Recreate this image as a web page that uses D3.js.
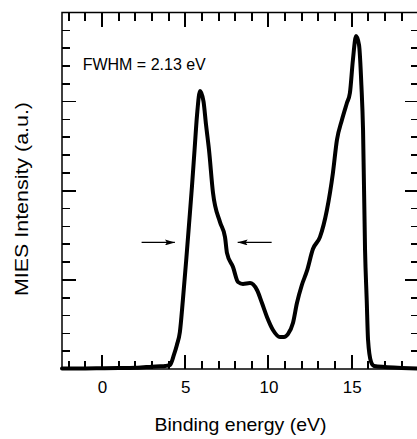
<!DOCTYPE html>
<html>
<head>
<meta charset="utf-8">
<script src="https://cdn.jsdelivr.net/npm/d3@7"></script>
<style>
  html, body { margin: 0; padding: 0; background: #fff; overflow: hidden; }
  svg { display: block; font-family: "Liberation Sans", Arial, Helvetica, sans-serif; }
</style>
</head>
<body>
<svg id="chart" width="417" height="439"></svg>
<script>
// ---- data ----
const energy = [-2.4, -1, 0, 1, 2, 2.5, 3, 3.5, 3.8, 4.08, 4.32, 4.5, 4.68, 4.86, 5.05, 5.23, 5.41, 5.56, 5.71, 5.89,
  6.1, 6.25, 6.43, 6.67, 7.09, 7.39, 7.51, 7.87, 8.17, 8.47, 8.89, 9.31, 9.61, 9.91, 10.27, 10.69, 10.93, 11.17,
  11.47, 11.71, 12.0, 12.31, 12.67, 13.09, 13.51, 13.87, 14.11, 14.41, 14.71, 14.89, 15.07, 15.26, 15.44, 15.58,
  15.68, 15.8, 15.9, 15.98, 16.16, 16.34, 17, 18, 19.04];
const intensity = [0.03, 0.03, 0.04, 0.05, 0.07, 0.1, 0.13, 0.15, 0.17, 0.22, 0.79, 1.35, 2.08, 3.87, 6.0, 8.13, 10.3, 12.28, 14.25, 15.6,
  15.0, 13.7, 12.28, 9.87, 8.24, 7.4, 6.5, 5.72, 4.88, 4.77, 4.82, 4.43, 3.7, 2.92, 2.19, 1.8, 1.8, 1.96,
  2.58, 3.7, 4.7, 5.5, 6.73, 7.4, 8.92, 11.0, 12.84, 13.97, 14.92, 15.48, 17.33, 18.68, 18.17, 15.93,
  13.4, 6.67, 3.87, 1.63, 0.4, 0.17, 0.11, 0.06, 0.02];

const xDomain = [-2.4, 19.04];
const yDomain = [0, 20];
const xMajorTicks = [0, 5, 10, 15];
const xMinorTicks = [-2, -1, 1, 2, 3, 4, 6, 7, 8, 9, 11, 12, 13, 14, 16, 17, 18, 19];
const yMajorTicks = [5, 10, 15];
const yMinorTicks = [1, 2, 3, 4, 6, 7, 8, 9, 11, 12, 13, 14, 16, 17, 18, 19];

const xLabel = "Binding energy (eV)";
const yLabel = "MIES Intensity (a.u.)";
const annotationText = "FWHM = 2.13 eV";
const annotationPos = [-1.16, 16.77];
// FWHM arrows: [tailX, headX] at height arrowLevel
const arrowLevel = 7.1;
const arrowsX = [[2.38, 4.38], [10.19, 8.15]];

// ---- layout ----
const margin = { left: 62, top: 12.5 };
const plotW = 357, plotH = 356.5;
const minorLen = 8, majorLen = 14;

const svg = d3.select("#chart");
const g = svg.append("g").attr("transform", `translate(${margin.left},${margin.top})`);

const x = d3.scaleLinear().domain(xDomain).range([0, plotW]);
const y = d3.scaleLinear().domain(yDomain).range([plotH, 0]);

// arrowhead marker
svg.append("defs").append("marker")
  .attr("id", "ah")
  .attr("viewBox", "0 0 10 6")
  .attr("refX", 10).attr("refY", 3)
  .attr("markerWidth", 10).attr("markerHeight", 6)
  .attr("markerUnits", "userSpaceOnUse")
  .attr("orient", "auto")
  .append("path").attr("d", "M0,0 L10,3 L0,6 L2,3 Z").attr("fill", "#000");

// frame
g.append("rect")
  .attr("x", x(xDomain[0])).attr("y", y(yDomain[1]))
  .attr("width", x(xDomain[1]) - x(xDomain[0]))
  .attr("height", y(yDomain[0]) - y(yDomain[1]))
  .attr("fill", "none").attr("stroke", "#000").attr("stroke-width", 1.5);

// bottom tick labels via d3 axis
const axB = g.append("g").attr("transform", `translate(0,${plotH})`)
  .call(d3.axisBottom(x).tickValues(xMajorTicks).tickSize(0).tickPadding(12).tickFormat(d3.format("d")));
axB.select(".domain").remove();
axB.selectAll(".tick line").remove();
axB.selectAll("text").attr("font-size", "17px").attr("fill", "#000")
  .attr("font-family", "Liberation Sans, Arial, sans-serif");

// curve
const pts = energy.map((e, i) => [e, intensity[i]]);
const line = d3.line().x(d => x(d[0])).y(d => y(d[1])).curve(d3.curveMonotoneX);
g.append("path").datum(pts)
  .attr("d", line)
  .attr("fill", "none").attr("stroke", "#000")
  .attr("stroke-width", 4).attr("stroke-linejoin", "round").attr("stroke-linecap", "round");

// ticks (inward on all four sides), x positions snapped to whole pixels
const snap = v => Math.round(x(v));
const xTickData = xMinorTicks.map(v => ({ v, len: minorLen })).concat(xMajorTicks.map(v => ({ v, len: majorLen })));
const yTickData = yMinorTicks.map(v => ({ v, len: minorLen })).concat(yMajorTicks.map(v => ({ v, len: majorLen })));

const tickLayer = svg.append("g")
  .attr("transform", `translate(${margin.left},${margin.top})`)
  .attr("fill", "#000")
  .attr("shape-rendering", "crispEdges");
tickLayer.selectAll("rect.xb").data(xTickData).join("rect").attr("class", "xb")
  .attr("x", d => snap(d.v) - 1).attr("y", d => plotH - d.len)
  .attr("width", 2).attr("height", d => d.len);
tickLayer.selectAll("rect.xt").data(xTickData).join("rect").attr("class", "xt")
  .attr("x", d => snap(d.v) - 1).attr("y", 0)
  .attr("width", 2).attr("height", d => d.len);
tickLayer.selectAll("rect.yl").data(yTickData).join("rect").attr("class", "yl")
  .attr("x", 0).attr("y", d => y(d.v) - 0.8)
  .attr("width", d => d.len).attr("height", 1.6);
tickLayer.selectAll("rect.yr").data(yTickData).join("rect").attr("class", "yr")
  .attr("x", d => plotW - d.len).attr("y", d => y(d.v) - 0.8)
  .attr("width", d => d.len).attr("height", 1.6);

// arrows
arrowsX.forEach(a => {
  g.append("line")
    .attr("x1", x(a[0])).attr("x2", x(a[1]))
    .attr("y1", y(arrowLevel)).attr("y2", y(arrowLevel))
    .attr("stroke", "#000").attr("stroke-width", 1.2)
    .attr("marker-end", "url(#ah)");
});

// annotation
g.append("text")
  .attr("x", x(annotationPos[0])).attr("y", y(annotationPos[1]))
  .attr("font-size", "16px").attr("fill", "#000")
  .text(annotationText);

// axis titles
svg.append("text")
  .attr("x", margin.left + plotW / 2).attr("y", 431)
  .attr("text-anchor", "middle").attr("font-size", "18.5px").attr("fill", "#000")
  .attr("textLength", 172).attr("lengthAdjust", "spacingAndGlyphs")
  .text(xLabel);

svg.append("text")
  .attr("transform", "translate(27.5,199) rotate(-90)")
  .attr("text-anchor", "middle").attr("font-size", "18.5px").attr("fill", "#000")
  .attr("textLength", 194).attr("lengthAdjust", "spacingAndGlyphs")
  .text(yLabel);
</script>
</body>
</html>
